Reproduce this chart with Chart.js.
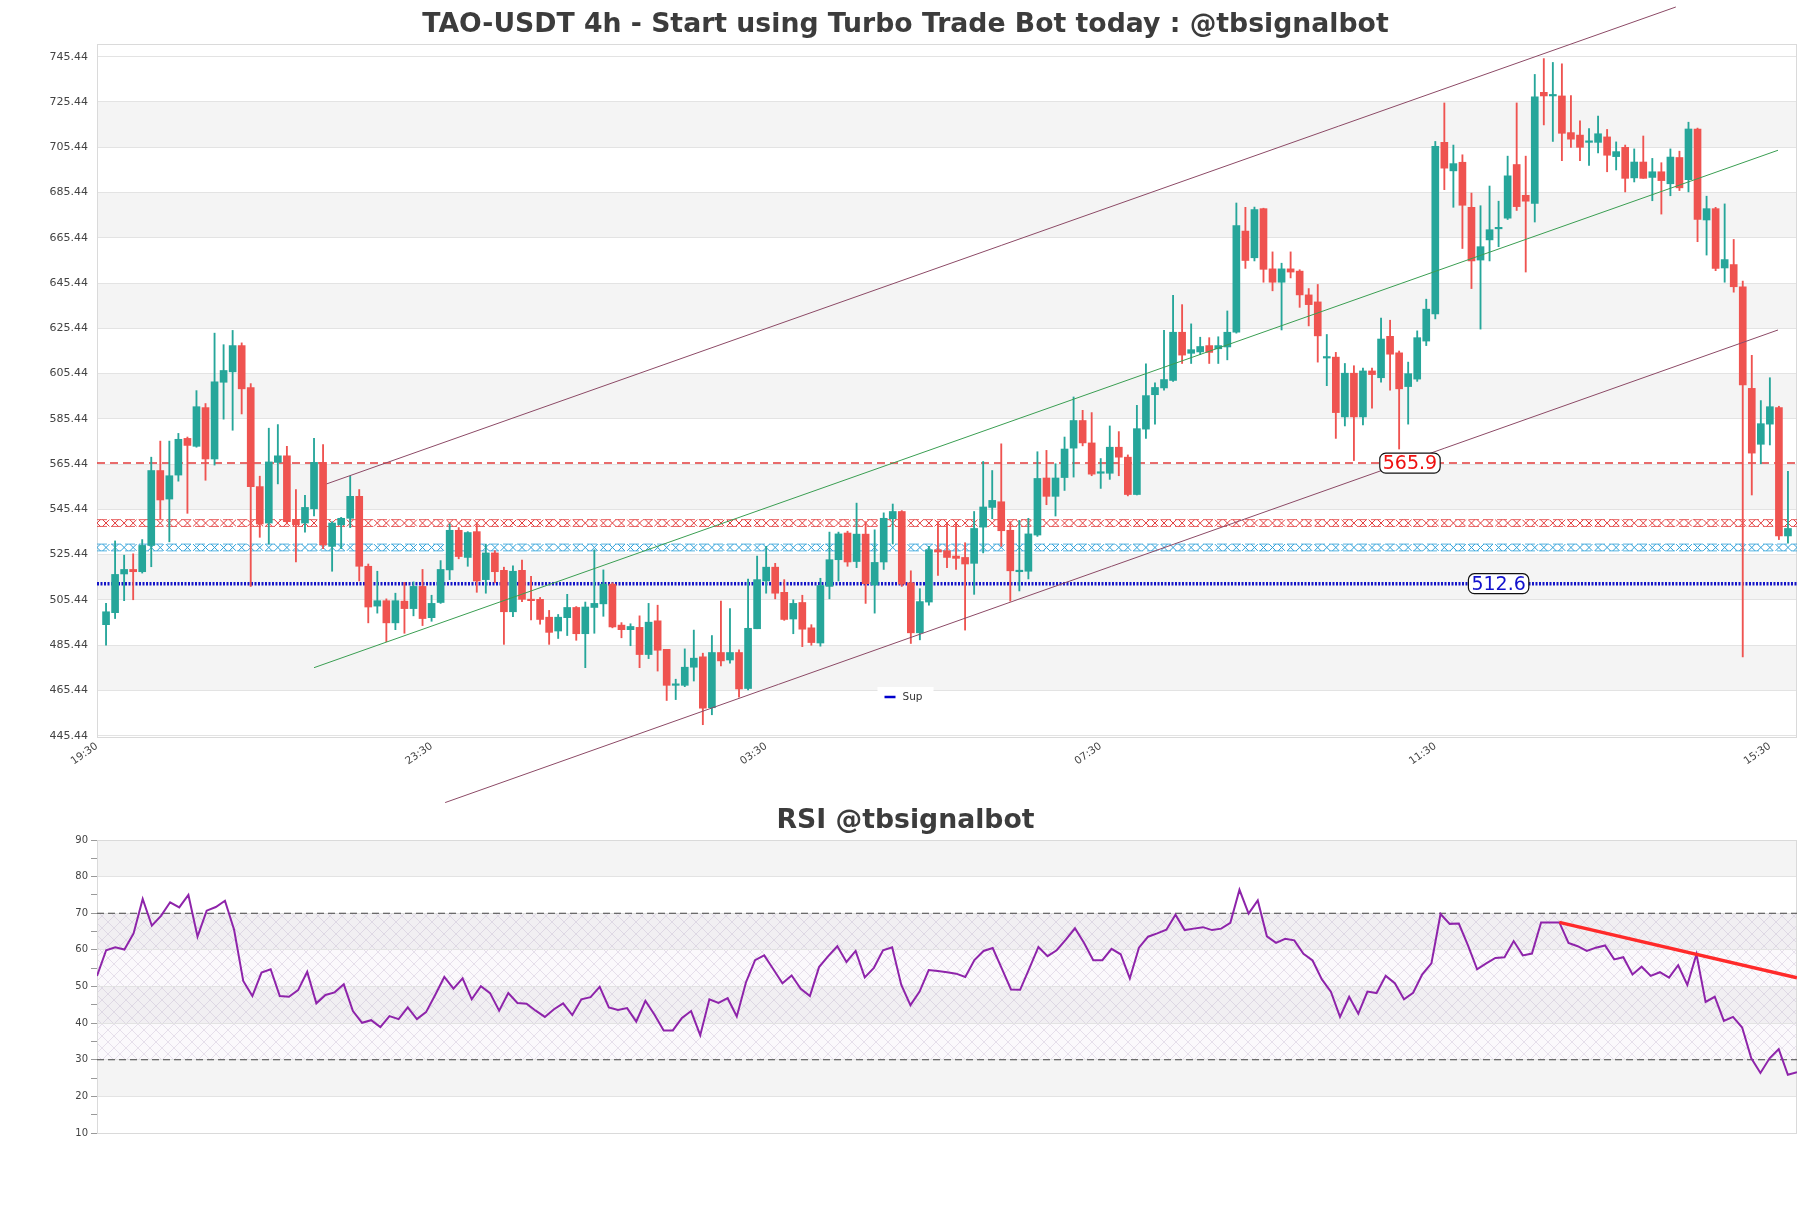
<!DOCTYPE html>
<html>
<head>
<meta charset="utf-8">
<title>TAO-USDT 4h</title>
<script src="https://cdn.jsdelivr.net/npm/chart.js"></script>
<style>
  body { margin: 0; background: #fff; }
  #wrap { position: relative; width: 1811px; height: 1208px; }
  canvas { position: absolute; left: 0; }
</style>
</head>
<body>
<div id="wrap">
  <canvas id="priceChart" width="1811" height="815" style="top:0"></canvas>
  <canvas id="rsiChart" width="1811" height="418" style="top:790px"></canvas>
</div>
<script>
// ---- data ----
const opens = [494.5,499.8,516.9,518.9,517.9,529.5,562.6,550.0,560.6,576.8,573.3,590.4,567.7,601.6,606.2,617.8,599.3,555.5,539.4,566.2,
  569.1,541.0,539.4,545.7,566.2,529.1,538.6,541.5,551.2,520.3,502.7,505.1,495.3,504.9,501.6,511.4,497.6,504.3,518.7,536.2,
  524.2,535.6,514.4,526.2,518.5,500.2,518.5,505.7,505.7,497.8,491.7,497.6,502.1,490.5,502.1,503.7,512.4,494.3,492.3,493.3,
  481.3,496.2,483.6,467.7,467.7,475.7,480.3,457.8,482.2,478.9,482.2,466.3,492.7,513.8,519.9,508.8,497.0,504.3,493.1,486.4,
  511.4,523.2,535.0,522.4,534.5,512.0,522.2,541.3,544.5,513.0,490.9,504.5,527.6,527.2,524.8,524.2,521.6,537.6,546.3,548.8,
  536.2,517.9,518.1,534.1,559.3,551.2,559.5,572.5,584.7,574.8,561.4,561.4,572.9,568.5,552.0,580.9,596.1,599.1,602.4,623.7,
  614.4,615.0,617.8,616.4,617.2,623.7,668.4,656.6,678.3,651.7,645.8,651.7,650.7,640.2,637.1,612.3,612.7,586.3,605.6,586.3,
  606.6,603.6,621.9,614.6,599.7,603.0,619.8,631.8,707.6,695.0,698.8,678.9,655.6,664.5,669.4,674.1,697.8,684.2,680.6,729.7,
  728.1,728.1,711.9,710.8,707.6,707.6,710.0,701.3,705.4,691.9,698.9,692.1,694.6,689.3,700.9,691.1,713.5,673.3,678.3,652.1,
  653.6,643.8,598.9,574.2,583.1,590.4,533.7];
const highs = [503.9,531.5,525.2,525.8,532.1,568.5,575.6,575.6,579.0,577.4,597.9,592.2,623.3,618.2,624.5,619.0,601.0,560.1,581.3,582.9,
  573.3,554.2,551.6,576.8,574.1,540.0,541.9,560.1,554.2,521.3,518.1,505.9,508.4,513.2,513.4,518.9,507.5,522.8,539.0,537.4,
  535.6,539.0,530.1,527.2,519.9,520.5,523.0,515.9,506.5,500.8,499.0,507.9,502.5,504.5,527.6,518.7,513.0,495.4,494.9,498.4,
  503.9,503.1,483.6,470.4,483.8,492.1,481.9,489.7,504.9,501.6,483.4,514.6,524.8,529.1,521.6,514.4,505.5,507.5,494.5,515.0,
  535.4,535.4,535.8,548.2,540.0,536.4,543.9,547.8,544.9,518.3,510.4,529.1,540.0,539.0,539.0,530.7,544.5,566.6,562.6,574.4,
  540.0,540.6,541.5,570.9,571.5,565.6,577.4,595.1,589.2,588.2,567.9,582.3,579.8,569.5,591.4,609.7,601.4,624.5,640.0,635.9,
  627.4,621.5,621.3,621.7,633.1,680.8,678.9,679.0,678.5,659.2,654.2,659.2,651.3,643.0,644.8,622.7,614.8,609.9,608.9,607.9,
  607.9,630.0,629.0,615.4,610.5,624.3,638.3,708.0,725.0,706.4,702.1,685.2,679.6,688.3,681.6,701.5,725.0,701.5,737.6,744.6,
  742.9,742.3,728.3,717.1,713.7,719.2,713.3,707.8,706.4,704.7,710.4,700.5,698.6,704.7,703.7,716.5,713.9,683.8,678.9,680.4,
  664.7,646.3,613.5,593.5,603.6,591.0,562.2];
const lows = [485.4,497.2,505.1,505.5,517.3,520.1,541.3,531.1,557.9,543.7,572.9,558.3,565.0,585.3,580.4,587.6,511.4,533.1,530.1,556.7,
  539.0,522.2,535.4,542.5,528.1,518.1,528.1,537.4,513.8,495.3,499.6,487.0,492.3,490.7,498.4,494.1,496.0,503.9,514.4,523.6,
  520.3,508.8,508.4,513.0,485.8,498.0,504.7,496.6,494.7,485.8,488.4,489.7,487.6,475.5,490.7,498.2,493.1,488.7,485.2,475.5,
  479.5,474.0,461.0,461.4,467.1,469.6,450.3,454.7,476.3,477.5,462.5,465.7,492.7,508.4,505.9,496.4,490.5,484.8,485.4,485.0,
  505.9,513.8,520.3,519.7,503.9,499.6,518.9,530.1,511.4,486.2,487.8,503.1,516.3,519.7,518.9,492.1,507.9,526.2,541.3,529.1,
  504.9,509.4,514.7,533.5,547.5,542.5,553.8,559.7,573.5,560.3,554.7,558.7,560.3,551.4,551.8,576.8,583.1,598.1,602.0,609.9,
  609.9,613.8,609.9,609.9,611.5,623.3,651.9,655.2,645.8,642.0,624.7,647.7,634.7,626.5,610.5,600.1,576.8,582.3,567.0,582.7,
  590.2,601.6,598.1,572.1,583.1,602.0,617.8,629.6,686.7,678.9,660.7,643.0,625.1,655.2,661.5,673.5,677.5,650.3,672.4,715.3,
  708.0,699.5,705.4,699.5,697.4,702.9,694.6,695.4,685.7,690.1,691.7,681.8,675.9,684.0,686.3,685.7,663.7,657.8,650.9,645.8,
  641.4,480.3,551.8,565.6,573.9,532.1,530.5];
const closes = [500.2,516.7,518.9,517.9,529.5,562.6,549.6,560.3,576.4,573.7,590.8,567.7,601.8,606.8,617.8,598.7,555.5,539.0,566.4,569.1,
  540.0,538.6,546.3,566.2,529.7,539.4,541.5,551.2,520.3,502.3,505.1,495.3,505.1,501.6,511.4,497.2,503.9,518.9,536.2,524.6,
  535.2,513.8,526.2,517.9,500.2,518.1,505.7,505.1,496.8,491.1,497.8,502.1,490.5,502.3,503.9,512.4,493.5,492.3,493.7,481.3,
  495.6,483.2,467.7,468.3,475.7,479.7,457.6,482.2,478.5,482.2,466.1,492.9,514.4,519.9,508.4,496.8,503.9,492.5,486.6,511.8,
  523.2,534.6,522.2,534.5,512.6,522.0,541.5,544.5,512.4,490.9,504.7,527.6,526.6,524.2,523.8,521.3,537.0,546.5,549.4,536.0,
  518.3,518.3,534.6,559.1,551.2,559.3,572.1,584.7,574.8,561.0,562.0,572.9,568.5,552.0,581.1,595.7,599.3,602.8,623.7,613.6,
  616.0,617.4,614.8,617.8,623.7,670.8,655.4,677.9,651.5,645.8,651.7,650.3,640.2,635.9,622.1,612.7,588.2,605.6,586.3,606.6,
  605.0,620.7,614.0,598.7,605.4,621.3,633.9,705.8,696.2,698.2,679.8,655.2,661.5,669.0,669.8,692.8,679.2,681.6,727.7,728.1,
  728.5,711.6,709.0,705.4,708.0,711.4,701.9,703.5,691.7,698.9,691.7,694.6,690.7,701.1,687.5,713.5,673.5,678.3,651.9,655.8,
  643.8,600.4,570.3,583.3,590.8,533.7,537.0];

const tickLabels = ['19:30', '23:30', '03:30', '07:30', '11:30', '15:30'];
const tickIndex = [-1, 36, 73, 110, 147, 184];
const priceTicks = [445.44,465.44,485.44,505.44,525.44,545.44,565.44,585.44,605.44,625.44,645.44,665.44,685.44,705.44,725.44,745.44];

const resistanceLevel = 565.9;
const supportLevel = 512.6;
const redZoneLevel = 539.4;
const blueZoneLevel = 528.6;

// channel lines: [candle index, price]
const channelUpper = [[24.4, 556.7], [173.6, 767.4]];
const channelMiddle = [[23.0, 475.5], [184.9, 704.1]];
const channelLower = [[37.5, 415.9], [184.9, 624.7]];

const rsiValues = [52.9,59.9,60.7,60.1,64.5,73.9,66.6,69.3,73.0,71.6,75.0,63.6,70.7,71.7,73.4,65.5,51.5,47.4,53.8,54.7,
  47.4,47.2,49.0,54.0,45.4,47.7,48.4,50.6,43.3,40.1,40.8,38.9,41.9,41.1,44.3,41.1,43.0,47.7,52.6,49.4,
  52.2,46.5,50.1,48.2,43.4,48.2,45.5,45.3,43.4,41.7,43.8,45.4,42.2,46.5,47.1,49.9,44.3,43.6,44.1,40.4,
  46.1,42.3,38.0,38.0,41.4,43.3,36.7,46.5,45.5,46.8,41.8,51.1,57.2,58.5,54.7,50.9,53.0,49.4,47.4,55.3,
  58.3,61.0,56.7,59.7,52.5,55.1,59.9,60.7,50.4,44.9,48.6,54.5,54.2,53.9,53.5,52.6,57.2,59.7,60.5,54.9,
  49.2,49.1,54.9,60.8,58.3,59.9,62.8,65.9,61.9,57.2,57.2,60.3,58.8,52.2,60.6,63.6,64.5,65.5,69.6,65.4,
  65.8,66.2,65.4,65.8,67.4,76.4,69.9,73.5,63.7,61.9,63.0,62.6,58.9,57.1,52.0,48.6,41.7,47.2,42.6,48.6,
  48.2,52.9,50.9,46.5,48.3,53.3,56.3,69.8,67.1,67.2,61.2,54.7,56.3,57.8,58.0,62.4,58.5,59.0,67.5,67.5,
  67.5,61.9,61.0,59.7,60.6,61.2,57.4,58.0,53.3,55.4,52.9,53.9,52.4,55.8,50.4,58.8,45.8,47.2,40.6,41.7,
  38.8,30.4,26.4,30.4,32.9,25.9,26.6];
const rsiTrend = [[160, 67.5], [186, 52.4]];
const rsiUpper = 70, rsiLower = 30;

// ---- styling ----
const GREEN = '#26a69a', RED = '#ef5350';
const FONT = "'DejaVu Sans', sans-serif";
Chart.defaults.font.family = FONT;
Chart.defaults.color = '#444';

const n = opens.length;
const idx = opens.map((_, i) => i);
const candleColors = idx.map(i => closes[i] >= opens[i] ? GREEN : RED);
const flat = (v, a, b) => [{x: a, y: v}, {x: b, y: v}];
const seg = pts => pts.map(p => ({x: p[0], y: p[1]}));
const everyIndex = v => { const out = []; for (let i = -1; i <= n; i++) out.push({x: i, y: v}); return out; };

function sizeY(w) { return s => { s.width = w; }; }

const bandsPlugin = {
  id: 'bands',
  beforeDraw(chart, args, o) {
    const {ctx, chartArea: a, scales: {y}} = chart;
    ctx.save();
    ctx.fillStyle = '#f4f4f4';
    o.bands.forEach(([lo, hi]) => {
      const t = y.getPixelForValue(hi), b = y.getPixelForValue(lo);
      ctx.fillRect(a.left, t, a.right - a.left, b - t);
    });
    if (o.hatch) {
      const c = document.createElement('canvas');
      c.width = c.height = 12;
      const g = c.getContext('2d');
      g.strokeStyle = 'rgba(170,150,190,0.33)';
      g.lineWidth = 0.8;
      g.beginPath(); g.moveTo(0, 0); g.lineTo(12, 12); g.moveTo(12, 0); g.lineTo(0, 12); g.stroke();
      const t = y.getPixelForValue(o.hatch[1]), b = y.getPixelForValue(o.hatch[0]);
      ctx.fillStyle = 'rgba(228,218,236,0.15)';
      ctx.fillRect(a.left, t, a.right - a.left, b - t);
      ctx.fillStyle = ctx.createPattern(c, 'repeat');
      ctx.fillRect(a.left, t, a.right - a.left, b - t);
    }
    ctx.restore();
  },
  beforeDatasetsDraw(chart) {
    const {ctx, chartArea: a} = chart;
    ctx.save();
    ctx.strokeStyle = '#dadada';
    ctx.lineWidth = 1;
    ctx.strokeRect(a.left + 0.5, a.top + 0.5, a.right - a.left - 1, a.bottom - a.top);
    ctx.restore();
  },
  afterDraw(chart, args, o) {
    const {ctx} = chart;
    ctx.save();
    ctx.fillStyle = '#3c3c3c';
    ctx.font = 'bold 26.7px ' + FONT;
    ctx.textAlign = 'center';
    ctx.textBaseline = 'middle';
    ctx.fillText(o.title, chart.width / 2, o.titleY);
    ctx.restore();
  }
};

const labelsPlugin = {
  id: 'levelLabels',
  afterDatasetsDraw(chart, args, o) {
    const {ctx, scales: {x, y}, chartArea: a} = chart;
    ctx.save();
    ctx.font = '19px ' + FONT;
    ctx.textBaseline = 'middle';
    ctx.textAlign = 'center';
    o.items.forEach(it => {
      const px = x.getPixelForValue(it.at), py = y.getPixelForValue(it.value);
      const w = ctx.measureText(it.text).width + 6, h = 20;
      ctx.beginPath();
      ctx.roundRect(px - w / 2, py - h / 2, w, h, 6);
      ctx.fillStyle = '#fff';
      ctx.fill();
      ctx.strokeStyle = '#111';
      ctx.lineWidth = 1.2;
      ctx.stroke();
      ctx.fillStyle = it.color;
      ctx.fillText(it.text, px, py + 1);
    });
    // legend box for the support line
    const lx = chart.width / 2 - 28, ly = a.bottom - 50;
    ctx.fillStyle = '#fff';
    ctx.fillRect(lx, ly, 56, 19);
    ctx.strokeStyle = '#0000cc';
    ctx.lineWidth = 2.5;
    ctx.beginPath(); ctx.moveTo(lx + 7, ly + 10); ctx.lineTo(lx + 18, ly + 10); ctx.stroke();
    ctx.fillStyle = '#333';
    ctx.font = '10.5px ' + FONT;
    ctx.textAlign = 'left';
    ctx.fillText('Sup', lx + 25, ly + 10);
    ctx.restore();
  }
};

const priceBands = [];
for (let i = 1; i < priceTicks.length - 1; i += 2) priceBands.push([priceTicks[i], priceTicks[i + 1]]);

const lineDs = (data, color, extra) => Object.assign({
  type: 'line', data, borderColor: color, borderWidth: 1, pointRadius: 0, fill: false, tension: 0
}, extra);

new Chart(document.getElementById('priceChart'), {
  type: 'bar',
  data: {
    datasets: [
      lineDs(seg(channelUpper), '#8c4a66', {clip: false, order: -1}),
      lineDs(seg(channelMiddle), '#3a9e52', {clip: false, order: -1}),
      lineDs(seg(channelLower), '#8c4a66', {clip: false, order: -1}),
      {type: 'bar', data: idx.map(i => ({x: i, y: [opens[i], closes[i]]})), backgroundColor: candleColors,
        barThickness: 7, grouped: false, minBarLength: 1.5, order: 0},
      {type: 'bar', data: idx.map(i => ({x: i, y: [lows[i], highs[i]]})), backgroundColor: candleColors,
        barThickness: 1.2, grouped: false, order: 1},
      lineDs(flat(resistanceLevel, -1, n), '#e23b3b', {borderDash: [8, 5], borderWidth: 1.4, order: 2}),
      lineDs(flat(supportLevel, -1, n), '#1414c8', {borderDash: [2, 1.5], borderWidth: 3.5, order: 2, label: 'Sup'}),
      lineDs(flat(redZoneLevel + 1.5, -1, n), '#e23b3b', {borderWidth: 0.8, borderDash: [10, 4], order: 3}),
      lineDs(flat(redZoneLevel - 1.5, -1, n), '#e23b3b', {borderWidth: 0.8, borderDash: [10, 4], order: 3}),
      lineDs(everyIndex(redZoneLevel), '#e23b3b', {showLine: false, pointStyle: 'crossRot', pointRadius: 4.8,
        pointBorderWidth: 1, pointBorderColor: '#e23b3b', order: 3}),
      lineDs(flat(blueZoneLevel + 1.5, -1, n), '#2c9fd8', {borderWidth: 0.8, borderDash: [10, 4], order: 3}),
      lineDs(flat(blueZoneLevel - 1.5, -1, n), '#2c9fd8', {borderWidth: 0.8, borderDash: [10, 4], order: 3}),
      lineDs(everyIndex(blueZoneLevel), '#2c9fd8', {showLine: false, pointStyle: 'crossRot', pointRadius: 4.8,
        pointBorderWidth: 1, pointBorderColor: '#2c9fd8', order: 3})
    ]
  },
  options: {
    responsive: false,
    animation: false,
    events: [],
    layout: {padding: {top: 44, right: 14, left: 0, bottom: 0}},
    scales: {
      x: {
        type: 'linear', min: -1, max: n, offset: false,
        grid: {display: false, drawTicks: false}, border: {display: false},
        afterBuildTicks: s => { s.ticks = tickIndex.map(v => ({value: v})); },
        afterFit: s => { s.height = 78; },
        ticks: {
          autoSkip: false, minRotation: 35, maxRotation: 35, padding: 3,
          font: {size: 10.5}, color: '#444',
          callback: v => { const k = tickIndex.indexOf(v); return k >= 0 ? tickLabels[k] : ''; }
        }
      },
      y: {
        min: 444.87, max: 751.05,
        grid: {color: '#e3e3e3', drawTicks: false}, border: {display: false},
        afterBuildTicks: s => { s.ticks = priceTicks.map(v => ({value: v})); },
        afterFit: sizeY(97),
        ticks: {padding: 9, font: {size: 11}, color: '#444', callback: v => v.toFixed(2)}
      }
    },
    plugins: {
      legend: {display: false},
      tooltip: {enabled: false},
      bands: {bands: priceBands, title: 'TAO-USDT 4h - Start using Turbo Trade Bot today : @tbsignalbot', titleY: 25},
      levelLabels: {items: [
        {value: resistanceLevel, at: 144.2, text: '565.9', color: '#ee1111'},
        {value: supportLevel, at: 154.0, text: '512.6', color: '#1111cc'}
      ]}
    }
  },
  plugins: [bandsPlugin, labelsPlugin]
});

new Chart(document.getElementById('rsiChart'), {
  type: 'line',
  data: {
    datasets: [
      lineDs(seg(rsiTrend), '#ff2a2a', {borderWidth: 3.5, order: 0}),
      lineDs(rsiValues.map((v, i) => ({x: i, y: v})), '#8e24aa', {borderWidth: 2, order: 1}),
      lineDs(flat(rsiUpper, 0, n - 1), '#444', {borderDash: [7, 4], borderWidth: 1.2, order: 2}),
      lineDs(flat(rsiLower, 0, n - 1), '#444', {borderDash: [7, 4], borderWidth: 1.2, order: 2})
    ]
  },
  options: {
    responsive: false,
    animation: false,
    events: [],
    layout: {padding: {top: 50, right: 14, left: 0, bottom: 75}},
    scales: {
      x: {type: 'linear', min: 0, max: n - 1, display: false},
      y: {
        min: 10, max: 90,
        border: {display: false},
        grid: {
          color: c => (c.tick && c.tick.value % 10 === 0) ? '#e3e3e3' : 'rgba(0,0,0,0)',
          tickColor: '#999', tickLength: 6
        },
        afterFit: sizeY(97),
        ticks: {stepSize: 5, padding: 3, font: {size: 10}, color: '#444',
          callback: v => v % 10 === 0 ? String(v) : ''}
      }
    },
    plugins: {
      legend: {display: false},
      tooltip: {enabled: false},
      bands: {bands: [[20, 30], [40, 50], [60, 70], [80, 90]], hatch: [30, 70], title: 'RSI @tbsignalbot', titleY: 31},
      levelLabels: {items: []}
    }
  },
  plugins: [bandsPlugin]
});
</script>
</body>
</html>
